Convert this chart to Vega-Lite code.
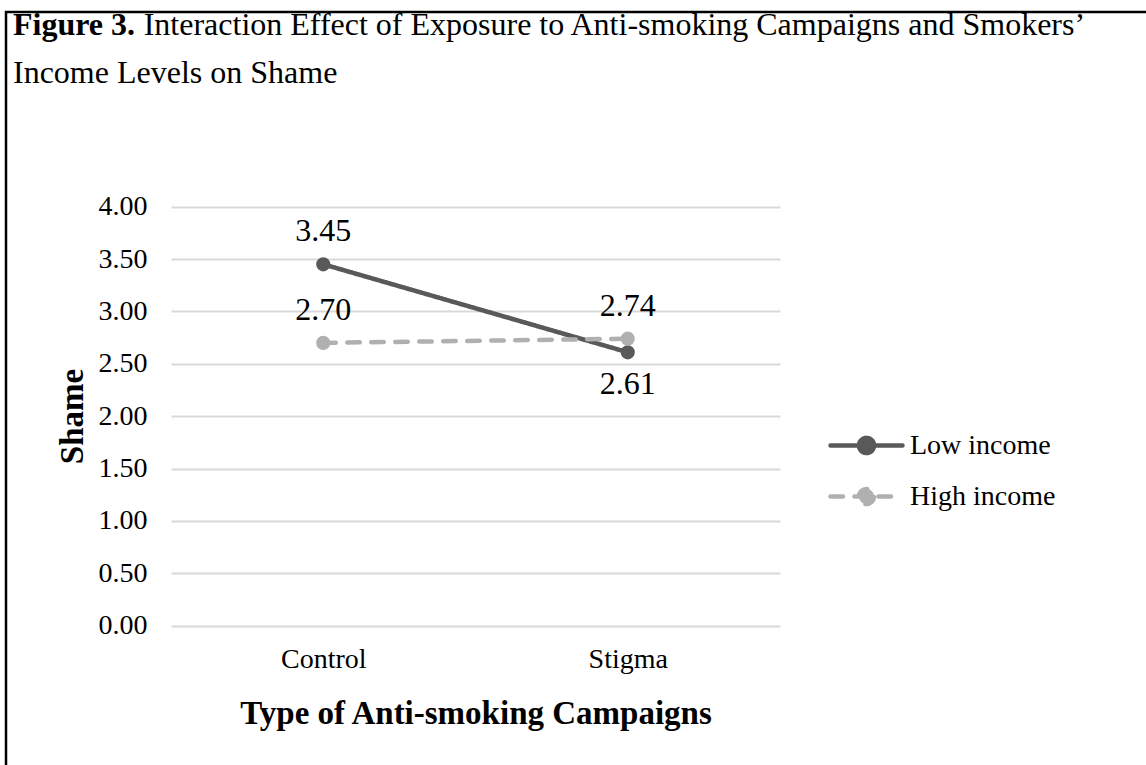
{
  "$schema": "https://vega.github.io/schema/vega-lite/v6.json",
  "width": 1150,
  "height": 763,
  "autosize": {"type": "none"},
  "padding": {"left": 6, "top": 12, "right": -10, "bottom": -10},
  "background": "white",
  "config": {
    "font": "Liberation Serif",
    "view": {"stroke": "black", "strokeWidth": 2.5},
    "axis": {"labelColor": "black", "titleColor": "black"}
  },
  "title": {
    "text": "Figure 3.",
    "subtitle": ["\u200b\u2003\u2003\u2003\u2003\u200aInteraction Effect of Exposure to Anti-smoking Campaigns and Smokers\u2019", "Income Levels on Shame"],
    "anchor": "start",
    "frame": "group",
    "orient": "top",
    "offset": -78,
    "dx": 7,
    "font": "Liberation Serif",
    "fontSize": 32,
    "fontWeight": "bold",
    "color": "black",
    "subtitleFont": "Liberation Serif",
    "subtitleFontSize": 32,
    "subtitleFontWeight": "normal",
    "subtitleColor": "black",
    "subtitleLineHeight": 48,
    "subtitlePadding": -32
  },
  "data": {
    "values": [
      {"campaign": "Control", "income": "Low income", "shame": 3.45},
      {"campaign": "Stigma", "income": "Low income", "shame": 2.61},
      {"campaign": "Control", "income": "High income", "shame": 2.70},
      {"campaign": "Stigma", "income": "High income", "shame": 2.74}
    ]
  },
  "encoding": {
    "x": {
      "field": "campaign",
      "type": "nominal",
      "scale": {"type": "point", "domain": ["Control", "Stigma"], "range": [165, 774], "padding": 0.5},
      "axis": {
        "title": "Type of Anti-smoking Campaigns",
        "domain": false,
        "ticks": false,
        "grid": false,
        "labelPadding": 20,
        "labelFontSize": 28,
        "labelAngle": 0,
        "offset": -149.3,
        "titleFontSize": 33,
        "titleFontWeight": "bold",
        "titleY": 72,
        "titleBaseline": "top"
      }
    },
    "y": {
      "field": "shame",
      "type": "quantitative",
      "scale": {"domain": [0, 4], "range": [613.7, 194.7], "nice": false, "zero": false},
      "axis": {
        "title": "Shame",
        "values": [0, 0.5, 1, 1.5, 2, 2.5, 3, 3.5, 4],
        "format": ".2f",
        "domain": false,
        "ticks": false,
        "labelPadding": 24,
        "labelFontSize": 28,
        "grid": true,
        "gridColor": "#D9D9D9",
        "gridWidth": 2,
        "offset": -165,
        "titleFontSize": 33,
        "titleFontWeight": "bold",
        "titleX": -99,
        "titleY": 404,
        "titleAngle": -90,
        "titleBaseline": "middle",
        "titleAlign": "center"
      }
    }
  },
  "layer": [
    {
      "transform": [{"filter": "datum.income === 'Low income'"}],
      "mark": {"type": "line", "strokeWidth": 4.5, "strokeCap": "round"},
      "encoding": {
        "color": {
          "field": "income", "type": "nominal",
          "scale": {"domain": ["Low income", "High income"], "range": ["#595959", "#B0B0B0"]},
          "legend": {
            "title": null, "orient": "none", "legendX": 840, "legendY": 413,
            "symbolType": "M-2,0H2M-0.42,0A0.42,0.42,0,1,1,0.42,0A0.42,0.42,0,1,1,-0.42,0Z",
            "symbolSize": 1296, "symbolStrokeWidth": 4.5, "labelFontSize": 28, "labelColor": "black",
            "labelOffset": 23, "rowPadding": 13, "padding": 0,
            "encode": {"symbols": {"update": {"fill": {"scale": "color", "field": "value"}, "stroke": {"scale": "color", "field": "value"}, "strokeCap": {"value": "round"}, "opacity": {"value": 1}}}}
          }
        },
        "strokeDash": {
          "field": "income", "type": "nominal",
          "scale": {"domain": ["Low income", "High income"], "range": [[1, 0], [12.5, 11.5]]},
          "legend": {
            "title": null, "orient": "none", "legendX": 840, "legendY": 413,
            "symbolType": "M-2,0H2M-0.42,0A0.42,0.42,0,1,1,0.42,0A0.42,0.42,0,1,1,-0.42,0Z",
            "symbolSize": 1296, "symbolStrokeWidth": 4.5, "labelFontSize": 28, "labelColor": "black",
            "labelOffset": 23, "rowPadding": 13, "padding": 0
          }
        }
      }
    },
    {
      "transform": [{"filter": "datum.income === 'Low income'"}],
      "mark": {"type": "point", "filled": true, "size": 200, "opacity": 1},
      "encoding": {
        "color": {"field": "income", "type": "nominal", "legend": {"title": null}}
      }
    },
    {
      "transform": [{"filter": "datum.income === 'High income'"}],
      "mark": {"type": "line", "strokeWidth": 4.5, "strokeCap": "round"},
      "encoding": {
        "color": {"field": "income", "type": "nominal", "legend": {"title": null}},
        "strokeDash": {"field": "income", "type": "nominal", "legend": {"title": null}}
      }
    },
    {
      "transform": [{"filter": "datum.income === 'High income'"}],
      "mark": {"type": "point", "filled": true, "size": 200, "opacity": 1},
      "encoding": {
        "color": {"field": "income", "type": "nominal", "legend": {"title": null}}
      }
    },
    {
      "transform": [{"filter": "!(datum.income === 'Low income' && datum.campaign === 'Stigma')"}],
      "mark": {"type": "text", "fontSize": 32, "baseline": "alphabetic", "dy": -23, "color": "black"},
      "encoding": {"text": {"field": "shame", "type": "quantitative", "format": ".2f"}}
    },
    {
      "transform": [{"filter": "datum.income === 'Low income' && datum.campaign === 'Stigma'"}],
      "mark": {"type": "text", "fontSize": 32, "baseline": "alphabetic", "dy": 42, "color": "black"},
      "encoding": {"text": {"field": "shame", "type": "quantitative", "format": ".2f"}}
    }
  ]
}
